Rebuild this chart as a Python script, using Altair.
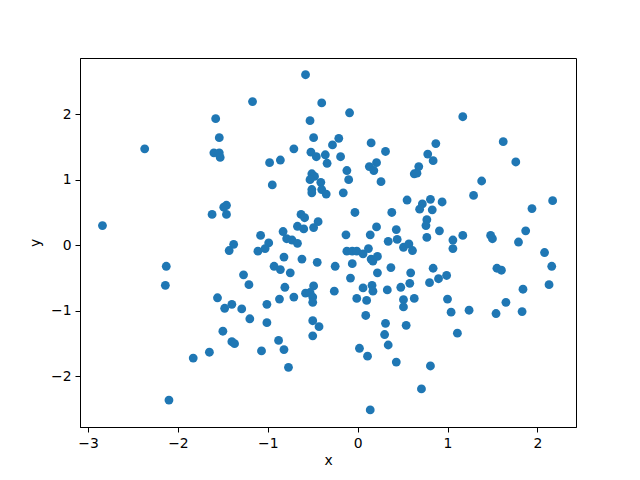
import altair as alt
import pandas as pd

xs = [-2.84, -2.37, -1.58, -1.54, -1.60, -1.54, -1.53, -1.17, -0.58, -0.40,
      -0.09, -0.53, -0.49, -0.21, -0.28, -0.71, 0.15, 0.31, -0.52, -0.46,
      -0.36, -0.19, -0.34, -0.98, -0.86, 0.13, 0.21, 0.18, -0.12, -0.10,
      0.26, -0.51, -0.48, -0.53, -0.41, -0.95, 0.63, 1.17, 0.87, 0.78,
      0.84, 0.68, 0.66, 1.62, 1.76, 1.38, -1.62, -1.46, -1.49, -1.46,
      -1.38, -1.43, -2.13, -2.14, -1.27, -1.21, -1.56, -1.48, -1.40, -1.29,
      -0.51, -0.51, -0.40, -0.35, -0.16, 0.55, -0.03, 0.38, -0.63, -0.59,
      -0.44, -0.67, -0.60, -0.49, 0.21, 0.43, -1.08, -0.83, -0.79, -0.73,
      -0.67, -0.99, -1.03, -1.11, -0.13, 0.14, 0.34, 0.44, 0.51, 0.57,
      0.61, -0.12, -0.06, -0.01, 0.06, 0.12, 0.15, 0.17, 0.22, -0.06,
      -0.82, -0.62, -0.45, -0.25, -0.93, -0.86, -0.75, 0.22, 0.37, 0.59,
      -0.08, 0.58, 0.48, 0.33, 0.16, 0.17, 0.06, -0.81, -0.49, -0.58,
      -0.53, -0.50, -0.26, -0.71, -0.87, -1.01, -0.50, -0.01, 0.10, 0.51,
      0.63, 0.51, 1.29, 2.17, 1.94, 0.81, 0.72, 0.69, 0.83, 0.94,
      0.77, 0.76, 0.91, 0.77, 1.06, 1.06, 1.17, 1.48, 1.50, 1.87,
      1.79, 2.08, 2.16, 2.13, 1.84, 1.55, 1.60, 0.84, 0.80, 0.90,
      0.99, 1.00, 1.65, 1.04, 1.24, 1.54, 1.83, 1.11, 0.81, 0.71,
      -1.20, -1.01, -0.50, -0.43, -0.50, -0.88, -0.82, -1.07, -0.77, 0.09,
      0.31, 0.54, 0.30, 0.34, 0.02, 0.11, 0.43, 0.14, -1.50, -1.40,
      -1.37, -1.65, -1.83, -2.10]

ys = [0.30, 1.47, 1.93, 1.64, 1.41, 1.41, 1.34, 2.19, 2.60, 2.17,
      2.02, 1.90, 1.64, 1.63, 1.53, 1.47, 1.56, 1.43, 1.42, 1.35,
      1.38, 1.35, 1.25, 1.26, 1.30, 1.20, 1.26, 1.14, 1.14, 1.00,
      0.97, 1.09, 1.05, 1.00, 0.96, 0.92, 1.09, 1.96, 1.55, 1.39,
      1.29, 1.20, 1.10, 1.58, 1.27, 0.98, 0.47, 0.61, 0.58, 0.47,
      0.015, -0.08, -0.32, -0.61, -0.45, -0.60, -0.80, -0.96, -0.90, -0.97,
      0.85, 0.80, 0.85, 0.78, 0.80, 0.69, 0.50, 0.50, 0.47, 0.42,
      0.36, 0.29, 0.25, 0.27, 0.28, 0.24, 0.15, 0.21, 0.10, 0.08,
      0.03, 0.035, -0.05, -0.09, 0.16, 0.16, 0.06, 0.09, -0.03, 0.02,
      -0.08, -0.09, -0.09, -0.09, -0.13, -0.05, -0.21, -0.24, -0.17, -0.28,
      -0.18, -0.21, -0.26, -0.32, -0.32, -0.37, -0.42, -0.42, -0.34, -0.42,
      -0.50, -0.58, -0.64, -0.68, -0.61, -0.70, -0.65, -0.64, -0.62, -0.73,
      -0.72, -0.79, -0.70, -0.79, -0.82, -0.90, -0.87, -0.81, -0.84, -0.83,
      -0.81, -0.94, 0.76, 0.68, 0.56, 0.70, 0.63, 0.55, 0.54, 0.66,
      0.39, 0.30, 0.22, 0.12, 0.08, -0.05, 0.15, 0.15, 0.10, 0.22,
      0.05, -0.11, -0.32, -0.60, -0.67, -0.35, -0.38, -0.35, -0.57, -0.51,
      -0.46, -0.82, -0.87, -1.02, -0.99, -1.04, -1.01, -1.34, -1.84, -2.19,
      -1.12, -1.18, -1.15, -1.24, -1.38, -1.45, -1.59, -1.61, -1.86, -1.07,
      -1.19, -1.22, -1.36, -1.52, -1.57, -1.69, -1.78, -2.51, -1.31, -1.47,
      -1.50, -1.63, -1.72, -2.36]

x_ticks = [-3, -2, -1, 0, 1, 2]
y_ticks = [-2, -1, 0, 1, 2]

df = pd.DataFrame({"x": xs, "y": ys})

axis_common = dict(
    format="d",
    labelExpr="replace(datum.label, '-', '\u2212')",
    grid=False,
    domainColor="black",
    domainWidth=1,
    tickColor="black",
    tickWidth=1,
    tickSize=5,
    labelPadding=4,
    labelFont="DejaVu Sans",
    labelFontSize=13.9,
    labelColor="black",
    titleFont="DejaVu Sans",
    titleFontSize=13.9,
    titleFontWeight="normal",
    titleColor="black",
)

chart = alt.Chart(df).mark_circle(size=78, color="#1f77b4", opacity=1).encode(
    x=alt.X("x:Q", title="x",
            scale=alt.Scale(domain=[-3.09, 2.43], nice=False, zero=False),
            axis=alt.Axis(values=x_ticks, titlePadding=4, **axis_common)),
    y=alt.Y("y:Q", title="y",
            scale=alt.Scale(domain=[-2.77, 2.855], nice=False, zero=False),
            axis=alt.Axis(values=y_ticks, titlePadding=8, **axis_common)),
).properties(
    width=496, height=369,
    autosize=alt.AutoSizeParams(type="none"),
    padding={"left": 72, "top": 50, "right": 56, "bottom": 45},
    background="white",
).configure_view(stroke="black", strokeWidth=1)

chart.save("out.html", embed_options={"renderer": "svg", "actions": False})
